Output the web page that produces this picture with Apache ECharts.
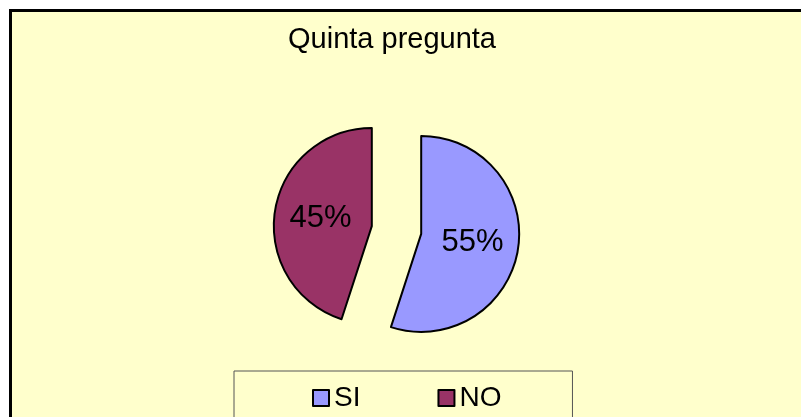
<!DOCTYPE html>
<html>
<head>
<meta charset="utf-8">
<script src="https://cdn.jsdelivr.net/npm/echarts@6/dist/echarts.min.js"></script>
<style>
  html, body { margin: 0; padding: 0; background: #fff; }
  #chart { width: 801px; height: 417px; }
</style>
</head>
<body>
<div id="chart"></div>
<script>
const chartTitle = 'Quinta pregunta';
const categories = ['SI', 'NO'];
const values = [55, 45];
const colors = ['#9999FF', '#993366'];

const chart = echarts.init(document.getElementById('chart'));

const pieData = categories.map((name, i) => ({
  name: name,
  value: values[i],
  selected: true,
  itemStyle: { color: colors[i] }
}));

chart.setOption({
  animation: false,
  backgroundColor: '#ffffff',
  textStyle: { fontFamily: 'Liberation Sans, Arial, sans-serif' },
  graphic: [{
    type: 'rect',
    z: -10,
    silent: true,
    shape: { x: 10.5, y: 10.5, width: 900, height: 500 },
    style: { fill: '#FFFFCC', stroke: '#000', lineWidth: 3 }
  }],
  title: {
    text: chartTitle,
    left: 288,
    top: 25,
    padding: 0,
    textStyle: { fontSize: 29, fontWeight: 'normal', color: '#000', fontFamily: 'Liberation Sans, Arial, sans-serif' }
  },
  legend: {
    data: categories,
    left: 234,
    top: 371,
    padding: [13, 71, 40, 78],
    itemGap: 77,
    itemWidth: 16,
    itemHeight: 16,
    icon: 'rect',
    selectedMode: false,
    borderColor: '#555',
    borderWidth: 1,
    backgroundColor: '#FFFFCC',
    itemStyle: { borderColor: '#000', borderWidth: 2 },
    textStyle: { fontSize: 28, color: '#000', fontFamily: 'Liberation Sans, Arial, sans-serif' }
  },
  series: [{
    type: 'pie',
    center: [396.5, 230],
    radius: 98,
    startAngle: 90,
    clockwise: true,
    selectedMode: 'multiple',
    selectedOffset: 25,
    avoidLabelOverlap: false,
    itemStyle: { borderColor: '#000', borderWidth: 2 },
    select: { itemStyle: { borderColor: '#000', borderWidth: 2 } },
    emphasis: { disabled: true },
    label: {
      show: true,
      position: 'inside',
      formatter: '{d}%',
      fontSize: 31,
      color: '#000',
      fontFamily: 'Liberation Sans, Arial, sans-serif'
    },
    labelLine: { show: false },
    data: pieData
  }]
});
</script>
</body>
</html>
